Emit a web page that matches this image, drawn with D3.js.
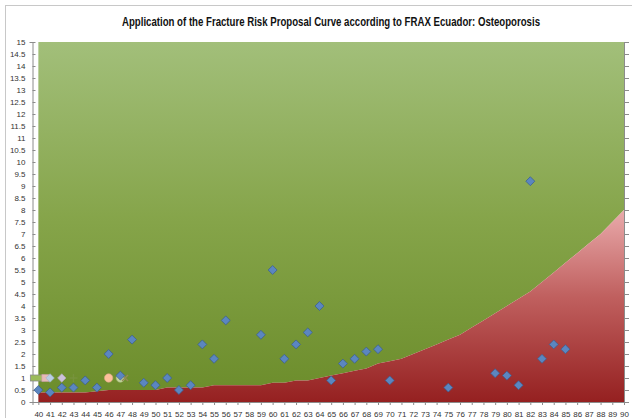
<!DOCTYPE html>
<html>
<head>
<meta charset="utf-8">
<script src="https://cdn.jsdelivr.net/npm/d3@7"></script>
<style>
  body { margin: 0; background: #fff; }
  svg { display: block; font-family: Arial, "Liberation Sans", sans-serif; }
</style>
</head>
<body>
<div class="graph"></div>
<script>
// threshold curve (red zone) by age
const ages = d3.range(40, 91);
const threshold = [0.4, 0.4, 0.4, 0.4, 0.4, 0.45, 0.5, 0.5, 0.5, 0.5,
  0.5, 0.6, 0.6, 0.6, 0.6, 0.7, 0.7, 0.7, 0.7, 0.7,
  0.8, 0.8, 0.9, 0.9, 1.0, 1.1, 1.2, 1.3, 1.4, 1.6,
  1.7, 1.8, 2.0, 2.2, 2.4, 2.6, 2.8, 3.1, 3.4, 3.7,
  4.0, 4.3, 4.6, 5.0, 5.4, 5.8, 6.2, 6.6, 7.0, 7.5, 8.0];

// patients (blue diamonds)
const patientAge = [40, 41, 42, 43, 44, 45, 46, 47, 48, 49, 50, 51, 52, 53, 54, 55, 56,
  59, 60, 61, 62, 63, 64, 65, 66, 67, 68, 69, 70, 75, 79, 80, 81, 82, 83, 84, 85];
const patientRisk = [0.5, 0.4, 0.6, 0.6, 0.9, 0.6, 2.0, 1.1, 2.6, 0.8, 0.7, 1.0, 0.5, 0.7, 2.4, 1.8, 3.4,
  2.8, 5.5, 1.8, 2.4, 2.9, 4.0, 0.9, 1.6, 1.8, 2.1, 2.2, 0.9, 0.6, 1.2, 1.1, 0.7, 9.2, 1.8, 2.4, 2.2];

// stray single-point series at risk = 1
const otherAge = [40, 40.6, 41, 42, 43, 46, 47, 47.4];
const otherRisk = [1, 1, 1, 1, 1, 1, 1, 1];
const otherShape = ["dash", "square", "diamond", "diamond", "plus", "circle", "circle", "x"];
const otherColor = ["#9bbb59", "#e6b9b8", "#b9cde5", "#ccc1da", "#77933c", "#fcc09a", "#c3d69b", "#948a54"];

const yTicks = d3.range(0, 15.01, 0.5);
const xTicks = d3.range(40, 91);

const W = 632, H = 418;
const svg = d3.select(".graph").append("svg").attr("width", W).attr("height", H);

// outer frame
svg.append("rect").attr("x", 5.5).attr("y", 5.5).attr("width", W - 4).attr("height", H - 4)
  .attr("fill", "#fff").attr("stroke", "#c8c8c8");

svg.append("text").attr("x", 331).attr("y", 26).attr("text-anchor", "middle")
  .attr("textLength", 418).attr("lengthAdjust", "spacingAndGlyphs")
  .style("font-weight", "bold").style("font-size", "12.5px").attr("fill", "#111")
  .text("Application of the Fracture Risk Proposal Curve according to FRAX Ecuador: Osteoporosis");

const x = d3.scaleLinear().domain([39.5, 90]).range([32.5, 624]);
const y = d3.scaleLinear().domain([0, 15]).range([402, 42]);

const defs = svg.append("defs");
const gGreen = defs.append("linearGradient").attr("id", "green")
  .attr("gradientUnits", "userSpaceOnUse").attr("x1", 0).attr("y1", y(15)).attr("x2", 0).attr("y2", y(0));
gGreen.append("stop").attr("offset", 0).attr("stop-color", "#a2bf7a");
gGreen.append("stop").attr("offset", 0.5).attr("stop-color", "#85a449");
gGreen.append("stop").attr("offset", 1).attr("stop-color", "#6b8c2a");
const gRed = defs.append("linearGradient").attr("id", "red")
  .attr("gradientUnits", "userSpaceOnUse").attr("x1", 0).attr("y1", y(8)).attr("x2", 0).attr("y2", y(0));
gRed.append("stop").attr("offset", 0).attr("stop-color", "#e9aaab");
gRed.append("stop").attr("offset", 0.45).attr("stop-color", "#c0605f");
gRed.append("stop").attr("offset", 1).attr("stop-color", "#952020");

const rows = ages.map((a, i) => ({ age: a, t: threshold[i] }));

svg.append("path").datum(rows)
  .attr("d", d3.area().x(d => x(d.age)).y0(d => y(d.t)).y1(y(15)))
  .attr("fill", "url(#green)");
svg.append("path").datum(rows)
  .attr("d", d3.area().x(d => x(d.age)).y0(y(0)).y1(d => y(d.t)))
  .attr("fill", "url(#red)");

// axes
const axisColor = "#8c8c8c";
const yAxis = svg.append("g").attr("transform", "translate(" + x(39.5) + ",0)")
  .call(d3.axisLeft(y).tickValues(yTicks).tickSize(3).tickPadding(4)
    .tickFormat(d => d3.format("~g")(d)));
yAxis.selectAll(".tick line").attr("x2", 3);
const yRight = svg.append("g").attr("transform", "translate(" + x(90) + ",0)")
  .call(d3.axisRight(y).tickValues(yTicks).tickSize(5).tickFormat(""));
const xAxis = svg.append("g").attr("transform", "translate(0," + y(0) + ")")
  .call(d3.axisBottom(x).tickValues(xTicks).tickSize(3).tickPadding(6));
[yAxis, yRight, xAxis].forEach(g => {
  g.select(".domain").attr("stroke", axisColor);
  g.selectAll(".tick line").attr("stroke", axisColor);
  g.selectAll("text").attr("fill", "#333").style("font-size", "8px")
    .style("font-family", "Arial, 'Liberation Sans', sans-serif");
});

// stray series markers
otherAge.forEach((a, i) => {
  const s = otherShape[i];
  const c = otherColor[i];
  const g = svg.append("g").attr("transform", "translate(" + x(a) + "," + y(otherRisk[i]) + ")");
  if (s === "dash") {
    g.append("rect").attr("x", -8).attr("y", -3).attr("width", 14).attr("height", 6)
      .attr("fill", c).attr("stroke", "#8a8a8a").attr("stroke-width", 0.8);
  } else if (s === "plus") {
    g.append("path").attr("d", "M-4,0H4M0,-4V4").attr("stroke", c).attr("stroke-width", 1.4);
  } else if (s === "x") {
    g.append("path").attr("d", "M-3,-3L3,3M-3,3L3,-3").attr("stroke", c).attr("stroke-width", 1.4);
  } else if (s === "circle") {
    g.append("circle").attr("r", 4.2).attr("fill", c).attr("stroke", d3.color(c).darker(0.4)).attr("stroke-width", 0.6);
  } else {
    g.append("path").attr("d", d3.symbol(d3.symbolSquare, s === "square" ? 50 : 36)())
      .attr("transform", s === "diamond" ? "rotate(45)" : null)
      .attr("fill", c).attr("stroke", d3.color(c).darker(0.4)).attr("stroke-width", 0.6);
  }
});

// patients
svg.append("g").selectAll("path")
  .data(patientAge.map((a, i) => ({ age: a, r: patientRisk[i] })))
  .join("path")
  .attr("transform", d => "translate(" + x(d.age) + "," + y(d.r) + ") rotate(45)")
  .attr("d", d3.symbol(d3.symbolSquare, 40)())
  .attr("fill", "#5b86c0").attr("stroke", "#3a5f92").attr("stroke-width", 0.7);
</script>
</body>
</html>
